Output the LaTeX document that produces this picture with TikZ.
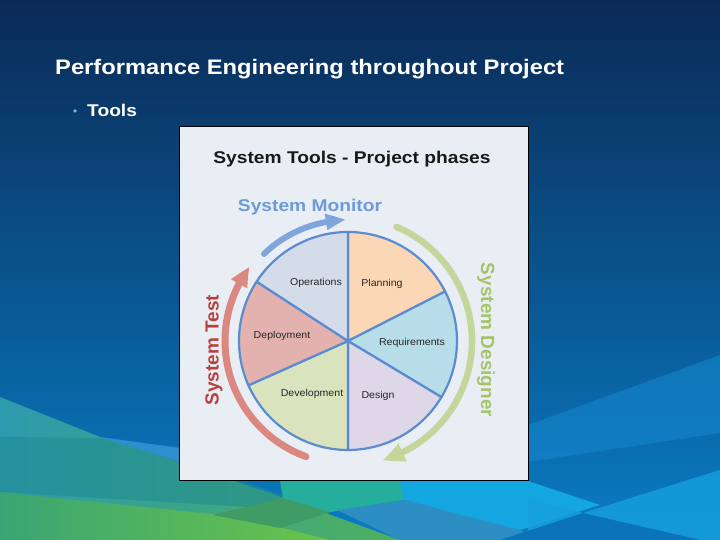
\documentclass[tikz,border=0pt]{standalone}
\usepackage{fontspec}
\setmainfont{Liberation Sans}
\usetikzlibrary{arrows.meta,bending}
\definecolor{bgtop}{HTML}{0A2A55}
\definecolor{bgmid}{HTML}{0B5596}
\definecolor{bgbot}{HTML}{0A7CC4}
\definecolor{gA}{RGB}{44,154,174}
\definecolor{gB}{RGB}{79,176,94}
\definecolor{gC}{RGB}{43,143,208}
\definecolor{gD}{RGB}{31,138,146}
\definecolor{gE}{RGB}{58,165,116}
\definecolor{gF}{RGB}{106,195,74}
\definecolor{gG}{RGB}{62,156,100}
\definecolor{gH}{RGB}{37,174,156}
\definecolor{gI}{RGB}{19,166,224}
\definecolor{gJ}{RGB}{45,142,196}
\definecolor{gK}{RGB}{21,133,204}
\definecolor{gL}{RGB}{23,160,222}
\definecolor{gM}{RGB}{11,115,184}
\definecolor{panelbg}{HTML}{E9EEF5}
\definecolor{pieline}{HTML}{5B8BD0}
\definecolor{cops}{HTML}{D5DCE9}
\definecolor{cplan}{HTML}{FBD7B5}
\definecolor{creq}{HTML}{B7DDE8}
\definecolor{cdes}{HTML}{DDD7E7}
\definecolor{cdev}{HTML}{D9E4BE}
\definecolor{cdep}{HTML}{E3B2AE}
\definecolor{arrblue}{HTML}{7EA6DC}
\definecolor{arrred}{HTML}{DA8880}
\definecolor{arrgreen}{HTML}{C3D69B}
\definecolor{txtblue}{HTML}{6E9AD6}
\definecolor{txtred}{HTML}{B8413E}
\definecolor{txtgreen}{HTML}{A6C26A}
\definecolor{bullet}{HTML}{6BB6E6}
\newcommand{\mysx}[1]{\scalebox{1.13}[1]{#1}}
\newcommand{\mysl}[1]{\scalebox{1.06}[1]{#1}}
\tikzset{
  slidetxt/.style={inner sep=0pt, text=white},
  bigbold/.style={inner sep=0pt, font=\fontsize{17}{20}\selectfont\bfseries},
  rotbold/.style={inner sep=0pt, font=\fontsize{19}{22}\selectfont\bfseries},
  pielabel/.style={inner sep=0pt, text=black!85, font=\fontsize{10}{12}\selectfont},
  sector/.style={draw=pieline, line width=2.2pt, line join=round},
  cyclearrow/.style={line cap=round}
}
\begin{document}
\begin{tikzpicture}[x=1pt,y=1pt]
\useasboundingbox (0,0) rectangle (720,540);
% background
\shade[top color=bgtop, middle color=bgmid, bottom color=bgbot] (0,0) rectangle (720,540);
\shade[left color=gA, right color=gB]
  (0,143) -- (100,103) -- (180,78) -- (290,40) -- (400,0) -- (0,0) -- cycle;
\fill[gC] (100,103) -- (180,92) -- (180,78) -- cycle;
\fill[gD, opacity=0.55] (0,103) -- (100,102) -- (240,60) -- (330,28) -- (0,48) -- cycle;
\shade[left color=gE, right color=gF]
  (0,48) -- (240,23) -- (330,0) -- (0,0) -- cycle;
\fill[gG] (213,25) -- (283,42) -- (337,30) -- (280,12) -- cycle;
\fill[gH] (280,59) -- (400,59) -- (405,40) -- (330,28) -- (283,42) -- cycle;
\fill[gI] (400,59) -- (528,59) -- (600,35) -- (520,10) -- (405,35) -- cycle;
\fill[gJ] (337,30) -- (405,40) -- (520,10) -- (540,0) -- (400,0) -- cycle;
\fill[gK, opacity=0.6] (528,115) -- (720,185) -- (720,107) -- (528,78) -- cycle;
\fill[gL, opacity=0.8] (528,42) -- (583,27) -- (720,70) -- (720,0) -- (528,0) -- cycle;
\fill[gM] (583,27) -- (500,0) -- (700,0) -- cycle;

% slide text
\node[slidetxt, anchor=west] (title) at (55,471) {\mysx{\fontsize{21}{25}\selectfont\bfseries Performance Engineering throughout Project}};
\node[circle, fill=bullet, inner sep=1.3pt] (bul) at (75,429) {};
\node[slidetxt, anchor=west] (tools) at (87,430) {\mysx{\fontsize{17}{20}\selectfont\bfseries Tools}};

% panel
\node[draw=black, line width=1.2pt, fill=panelbg, minimum width=349pt, minimum height=354pt, inner sep=0pt, anchor=south west] (panel) at (179,59) {};
\node[bigbold, text=black!90] (ptitle) at (352,381) {\mysx{System Tools - Project phases}};

% pie
\coordinate (pc) at (348,199);
\def\R{109pt}
\filldraw[sector, fill=cplan] (pc) -- ([shift=(90:\R)]pc) arc[start angle=90, end angle=27, radius=\R] -- cycle;
\filldraw[sector, fill=creq] (pc) -- ([shift=(27:\R)]pc) arc[start angle=27, end angle=-31, radius=\R] -- cycle;
\filldraw[sector, fill=cdes] (pc) -- ([shift=(-31:\R)]pc) arc[start angle=-31, end angle=-90, radius=\R] -- cycle;
\filldraw[sector, fill=cdev] (pc) -- ([shift=(270:\R)]pc) arc[start angle=270, end angle=204, radius=\R] -- cycle;
\filldraw[sector, fill=cdep] (pc) -- ([shift=(204:\R)]pc) arc[start angle=204, end angle=147, radius=\R] -- cycle;
\filldraw[sector, fill=cops] (pc) -- ([shift=(147:\R)]pc) arc[start angle=147, end angle=90, radius=\R] -- cycle;

\node[pielabel] (ops) at (316,257) {\mysl{Operations}};
\node[pielabel] (plan) at (382,256) {\mysl{Planning}};
\node[pielabel] (dep) at (282,204) {\mysl{Deployment}};
\node[pielabel] (req) at (412,197) {\mysl{Requirements}};
\node[pielabel] (dev) at (312,146) {\mysl{Development}};
\node[pielabel] (des) at (378,144) {\mysl{Design}};

% cycle arrows
\draw[cyclearrow, line width=6pt, arrblue, -{Triangle[length=20pt,width=15pt,bend]}]
  ([shift=(134:121pt)]pc) arc[start angle=134, end angle=91, radius=121pt];
\draw[cyclearrow, line width=7pt, arrred, -{Triangle[length=20pt,width=17pt,bend]}]
  ([shift=(250:123pt)]pc) arc[start angle=250, end angle=143, radius=123pt];
\draw[cyclearrow, line width=6.5pt, arrgreen, -{Triangle[length=22pt,width=18pt,bend]}]
  ([shift=(67:124pt)]pc) arc[start angle=67, end angle=-74, radius=124pt];

\node[bigbold, text=txtblue] (smon) at (310,333) {\mysx{System Monitor}};
\node[rotbold, text=txtred, rotate=90] (stest) at (214,190) {System Test};
\node[rotbold, text=txtgreen, rotate=-90] (sdes) at (486,200) {System Designer};
\end{tikzpicture}
\end{document}
